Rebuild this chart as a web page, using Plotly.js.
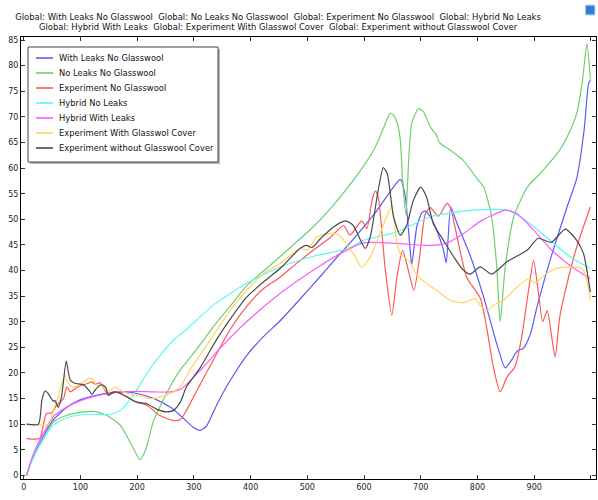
<!DOCTYPE html>
<html>
<head>
<meta charset="utf-8">
<script src="https://cdn.plot.ly/plotly-3.0.1.min.js"></script>
<style>body{margin:0;padding:0;background:#fff;} #chart{width:598px;height:500px;}</style>
</head>
<body>
<div id="chart"></div>
<script>
// ---- Data ----
const seriesNames = [
  "With Leaks No Glasswool",
  "No Leaks No Glasswool",
  "Experiment No Glasswool",
  "Hybrid No Leaks",
  "Hybrid With Leaks",
  "Experiment With Glasswol Cover",
  "Experiment without Glasswool Cover"
];

const blueX = [5, 12, 20, 35, 50, 75, 100, 130, 160, 180, 200, 230, 260, 285, 300, 311, 322, 334, 346, 360, 393, 420, 452, 487, 520, 550, 580, 620, 650, 664, 672, 681, 684, 693, 702, 708, 717, 728, 740, 745, 753, 764, 787, 811, 834, 849, 860, 870, 881, 893, 905, 928, 958, 975, 988, 996, 1000];
const blueY = [0, 2.3, 4.4, 7.7, 10.6, 13.2, 14.8, 15.7, 16.2, 16.3, 16.0, 15.0, 13.2, 10.8, 9.3, 8.8, 9.6, 12.3, 15.0, 17.8, 23.4, 26.8, 30.2, 34.4, 38.5, 42.3, 46.0, 51.3, 56.0, 57.8, 55.0, 44.5, 41.0, 48.5, 51.3, 51.6, 50.5, 47.9, 44.0, 41.5, 52.4, 49.2, 43.0, 34.8, 25.7, 21.0, 22.5, 24.3, 24.8, 27.5, 32.9, 42.0, 52.4, 58.0, 67.4, 76.5, 77.3];

const greenX = [5, 12, 20, 35, 52, 75, 100, 123, 145, 170, 190, 205, 215, 229, 258, 276, 287, 317, 334, 360, 393, 430, 470, 510, 540, 581, 617, 635, 646, 652, 658, 664, 668, 674, 677, 684, 696, 705, 717, 728, 733, 752, 775, 799, 811, 825, 834, 840, 849, 864, 888, 916, 945, 960, 975, 985, 993, 999];
const greenY = [0, 2.2, 4.2, 7.2, 10.4, 11.7, 12.3, 12.5, 11.8, 9.8, 6.0, 3.1, 5.0, 10.7, 17.3, 20.6, 22.1, 26.4, 29.0, 32.5, 37.0, 40.6, 44.5, 48.5, 52.0, 57.6, 63.5, 68.0, 70.7, 70.3, 69.0, 65.5, 57.6, 50.8, 57.6, 68.7, 71.6, 71.0, 68.0, 66.4, 65.0, 63.5, 61.5, 58.0, 56.3, 50.5, 40.7, 30.0, 40.7, 50.5, 56.3, 59.6, 63.5, 66.5, 70.7, 77.0, 84.3, 77.5];

const redX = [5, 28, 33, 40, 49, 58, 70, 76, 82, 93, 111, 120, 126, 135, 143, 149, 164, 182, 199, 217, 240, 264, 276, 287, 305, 334, 364, 393, 423, 452, 481, 511, 540, 564, 575, 596, 605, 614, 620, 625, 637, 649, 658, 668, 678, 688, 698, 708, 717, 731, 746, 752, 764, 781, 805, 816, 828, 840, 852, 866, 878, 890, 899, 907, 915, 923, 931, 937, 945, 958, 975, 999];
const redY = [7.2, 7.2, 9.0, 12.1, 12.2, 13.7, 15.0, 17.3, 16.3, 17.1, 17.9, 18.2, 17.8, 18.1, 16.6, 15.8, 16.2, 15.3, 14.3, 13.7, 11.7, 10.7, 10.9, 12.7, 16.5, 22.5, 28.5, 33.0, 36.5, 38.7, 41.4, 44.0, 46.4, 48.8, 46.9, 49.7, 48.2, 53.7, 55.5, 54.4, 40.7, 31.3, 38.7, 44.0, 40.1, 36.1, 42.7, 51.1, 52.3, 50.6, 53.1, 52.4, 46.6, 38.7, 34.6, 29.0, 21.2, 16.3, 19.2, 21.2, 27.0, 36.1, 42.0, 36.1, 30.0, 32.2, 27.0, 23.1, 30.9, 37.5, 44.6, 52.4];

const cyanX = [5, 12, 20, 35, 50, 75, 100, 130, 152, 170, 193, 217, 240, 264, 287, 334, 393, 452, 511, 570, 599, 657, 717, 775, 811, 852, 881, 928, 963, 999];
const cyanY = [0, 2.2, 4.2, 7.2, 9.6, 11.2, 11.8, 11.9, 11.9, 12.7, 15.6, 19.9, 23.4, 26.4, 28.5, 33.2, 37.5, 40.7, 42.8, 44.2, 45.9, 47.5, 50.5, 51.6, 51.9, 51.8, 50.1, 45.9, 42.7, 40.4];

const magentaX = [5, 12, 20, 35, 52, 80, 111, 140, 170, 200, 229, 258, 276, 287, 300, 317, 334, 346, 393, 452, 511, 558, 599, 657, 717, 746, 775, 805, 830, 849, 870, 899, 928, 963, 999];
const magentaY = [0, 2.6, 5.0, 8.3, 11.5, 13.6, 15.0, 15.8, 16.3, 16.4, 16.3, 16.3, 16.8, 17.8, 19.2, 21.2, 23.3, 24.8, 30.0, 35.5, 40.1, 43.3, 45.4, 45.3, 44.9, 45.4, 47.2, 49.6, 51.0, 51.8, 51.1, 47.9, 44.3, 41.0, 38.4];

const yellowX = [5, 44, 52, 61, 67, 73, 79, 87, 102, 114, 120, 129, 135, 149, 161, 176, 199, 223, 240, 258, 276, 293, 317, 340, 364, 393, 423, 452, 487, 500, 516, 546, 558, 581, 596, 611, 628, 643, 649, 658, 664, 681, 693, 710, 728, 752, 775, 796, 805, 816, 828, 849, 870, 890, 901, 922, 939, 969, 984, 993, 999];
const yellowY = [10, 10, 12.7, 15.3, 17.9, 19.5, 17.9, 17.3, 17.9, 18.9, 18.9, 17.6, 17.7, 16.3, 17.3, 16.3, 15.6, 15.0, 15.3, 16.0, 17.3, 20.6, 24.5, 28.3, 32.2, 36.1, 39.4, 41.4, 44.3, 44.0, 46.5, 47.3, 46.7, 43.3, 40.6, 42.7, 47.2, 51.4, 52.6, 45.3, 43.3, 41.7, 39.1, 37.5, 36.1, 34.2, 33.7, 34.5, 33.2, 32.2, 33.2, 34.5, 36.8, 38.4, 37.6, 39.4, 40.4, 40.7, 40.4, 38.1, 34.2];

const blackX = [5, 26, 32, 38, 43, 52, 55, 61, 67, 75, 82, 90, 105, 117, 120, 129, 138, 145, 149, 158, 170, 187, 199, 217, 235, 252, 264, 276, 287, 311, 340, 364, 393, 423, 452, 487, 499, 508, 523, 546, 567, 581, 602, 611, 625, 634, 641, 652, 664, 675, 687, 700, 710, 722, 740, 758, 775, 787, 805, 825, 852, 888, 907, 930, 955, 975, 987, 999];
const blackY = [10, 10, 14.7, 16.5, 16.0, 14.5, 14.6, 13.3, 15.6, 22.3, 18.6, 18.0, 17.7, 16.3, 15.8, 17.1, 17.7, 17.1, 15.6, 16.3, 16.1, 15.0, 14.3, 14.0, 12.9, 12.4, 12.7, 14.3, 17.3, 21.0, 26.5, 30.5, 34.8, 37.8, 40.4, 44.3, 44.9, 44.5, 46.2, 48.5, 49.7, 48.8, 44.3, 46.6, 55.7, 60.1, 58.9, 50.5, 46.9, 48.8, 53.7, 56.3, 54.4, 49.2, 45.9, 42.7, 40.1, 39.3, 40.7, 39.3, 41.7, 44.0, 46.3, 45.5, 48.1, 45.9, 43.3, 35.8];

const xTickVals = [0, 100, 200, 300, 400, 500, 600, 700, 800, 900, 1000];
const xTickText = ["0", "100", "200", "300", "400", "500", "600", "700", "800", "900", ""];

const titleLine1 = "Global: With Leaks No Glasswool  Global: No Leaks No Glasswool  Global: Experiment No Glasswool  Global: Hybrid No Leaks";
const titleLine2 = "Global: Hybrid With Leaks  Global: Experiment With Glasswol Cover  Global: Experiment without Glasswool Cover";

// ---- Styling ----
const xs = [blueX, greenX, redX, cyanX, magentaX, yellowX, blackX];
const ys = [blueY, greenY, redY, cyanY, magentaY, yellowY, blackY];
const colors = ["#5b5bf7", "#6fcf6f", "#ff5757", "#5cf7f7", "#fa5cfa", "#ffd45e", "#4a4a4a"];
const font = "DejaVu Sans, Liberation Sans, sans-serif";

const W = 598, H = 500;
const M = { l: 21, r: 2, t: 37, b: 21 };
const plotW = W - M.l - M.r, plotH = H - M.t - M.b;
// pixel -> paper helpers (used for the in-plot legend box)
const px2x = p => (p - M.l) / plotW;
const py2y = p => (H - M.b - p) / plotH;

const traces = seriesNames.map((n, i) => ({
  type: "scatter",
  mode: "lines",
  name: n,
  x: xs[i],
  y: ys[i],
  line: { color: colors[i], width: 1.2, shape: "spline", smoothing: 0.6 },
  hoverinfo: "skip",
  showlegend: false
}));

// compact legend drawn inside the plot (COMSOL style)
const lg = { left: 28, top: 47, right: 218, bottom: 162, row0: 58, rowStep: 15, lineA: 36, lineB: 53, text: 57 };
const shapes = [
  { type: "rect", xref: "paper", yref: "paper", layer: "above",
    x0: px2x(lg.left + 2), x1: px2x(lg.right + 2), y0: py2y(lg.bottom + 2), y1: py2y(lg.top + 2),
    fillcolor: "#b5b5b5", line: { width: 0 } },
  { type: "rect", xref: "paper", yref: "paper", layer: "above",
    x0: px2x(lg.left), x1: px2x(lg.right), y0: py2y(lg.bottom), y1: py2y(lg.top),
    fillcolor: "#ffffff", line: { color: "#444", width: 1 } },
  { type: "rect", xref: "paper", yref: "paper", x0: 0.982, x1: 0.998, y0: 1.05, y1: 1.072,
    fillcolor: "#2f7fd8", line: { color: "#9cc8f0", width: 1 } }
];
const annotations = [];
seriesNames.forEach((n, i) => {
  const yy = py2y(lg.row0 + i * lg.rowStep);
  shapes.push({ type: "line", xref: "paper", yref: "paper", layer: "above",
    x0: px2x(lg.lineA), x1: px2x(lg.lineB), y0: yy, y1: yy,
    line: { color: colors[i], width: 1.6 } });
  annotations.push({ xref: "paper", yref: "paper", x: px2x(lg.text), y: yy,
    xanchor: "left", yanchor: "middle", showarrow: false, text: n,
    font: { family: font, size: 8.4, color: "#111" } });
});

const layout = {
  width: W,
  height: H,
  margin: M,
  paper_bgcolor: "#ffffff",
  plot_bgcolor: "#ffffff",
  showlegend: false,
  title: {
    text: titleLine1 + "<br>" + titleLine2,
    font: { family: font, size: 8.45, color: "#111" },
    x: 0.447, xanchor: "center", xref: "paper",
    y: 0.961, yanchor: "top"
  },
  xaxis: {
    range: [-4.8, 1009],
    tickvals: xTickVals, ticktext: xTickText,
    ticks: "inside", ticklen: 4, tickcolor: "#333",
    showline: true, linecolor: "#000", linewidth: 1, mirror: "ticks",
    showgrid: false, zeroline: false,
    tickfont: { family: font, size: 8, color: "#222" }
  },
  yaxis: {
    range: [-0.7, 85.6],
    dtick: 5, tick0: 0,
    ticks: "inside", ticklen: 4, tickcolor: "#333",
    showline: true, linecolor: "#000", linewidth: 1, mirror: "ticks",
    showgrid: false, zeroline: false,
    tickfont: { family: font, size: 8, color: "#222" }
  },
  shapes: shapes,
  annotations: annotations
};

Plotly.newPlot("chart", traces, layout, { displayModeBar: false, staticPlot: true });
</script>
</body>
</html>
